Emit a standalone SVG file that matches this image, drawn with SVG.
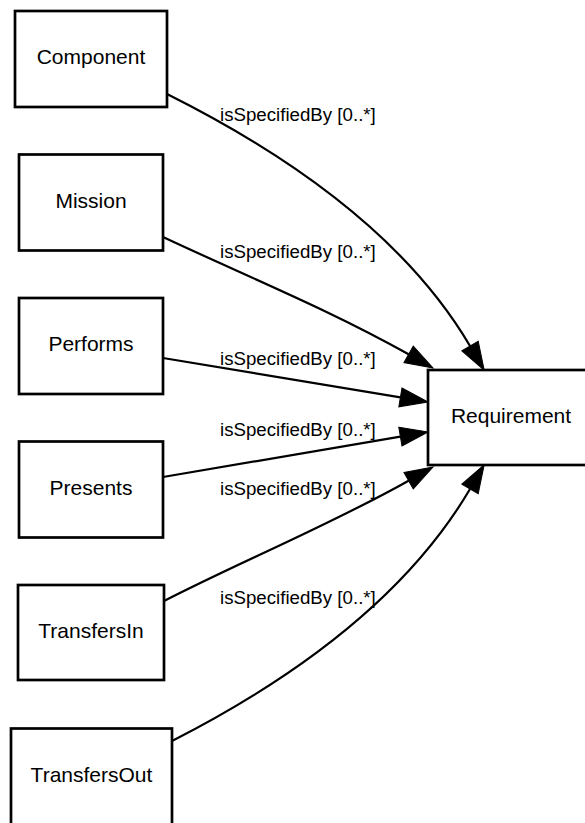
<svg xmlns="http://www.w3.org/2000/svg" width="585" height="823" viewBox="0 0 585 823">
<style>
.node rect{fill:#fff;stroke:#000;stroke-width:2.7}
.node text{font-family:"Liberation Sans",Arial,sans-serif;font-size:21px;text-anchor:middle;fill:#000}
.edge path{fill:none;stroke:#000;stroke-width:2.2}
.lbl{font-family:"Liberation Sans",Arial,sans-serif;font-size:18.7px;fill:#000}
</style>
<defs>
<marker id="arr" markerUnits="userSpaceOnUse" markerWidth="32" markerHeight="22" refX="0" refY="10" orient="auto" overflow="visible">
<path d="M0,0.5 L28,10 L0,19.5 z" fill="#000" stroke="#000" stroke-width="1"/>
</marker>
</defs>
<rect width="585" height="823" fill="#fff"/>
<g id="connectors" class="edge">
<path d="M167,94 C314,167.5 414.5,251.5 470,346" marker-end="url(#arr)"/>
<path d="M163,237 C245,275.5 328,309 408.6,354.3" marker-end="url(#arr)"/>
<path d="M163,358 L400.4,397.4" marker-end="url(#arr)"/>
<path d="M163,477 L400.4,436.6" marker-end="url(#arr)"/>
<path d="M164,601 C245,559.5 328,526 408.6,480.7" marker-end="url(#arr)"/>
<path d="M172,741 C316,667.5 414.5,583.5 470,489" marker-end="url(#arr)"/>
<text class="lbl" x="220" y="121">isSpecifiedBy [0..*]</text>
<text class="lbl" x="220" y="258">isSpecifiedBy [0..*]</text>
<text class="lbl" x="220" y="365">isSpecifiedBy [0..*]</text>
<text class="lbl" x="220" y="436">isSpecifiedBy [0..*]</text>
<text class="lbl" x="220" y="495">isSpecifiedBy [0..*]</text>
<text class="lbl" x="220" y="604">isSpecifiedBy [0..*]</text>
</g>
<g id="Component" class="node"><rect x="15" y="11" width="152" height="96"/><text x="91" y="64">Component</text></g>
<g id="Mission" class="node"><rect x="19" y="154.5" width="144" height="96"/><text x="91" y="207.5">Mission</text></g>
<g id="Performs" class="node"><rect x="19" y="298" width="144" height="96"/><text x="91" y="351">Performs</text></g>
<g id="Presents" class="node"><rect x="19" y="441.5" width="144" height="96"/><text x="91" y="494.5">Presents</text></g>
<g id="TransfersIn" class="node"><rect x="18" y="585" width="146" height="95"/><text x="91" y="638">TransfersIn</text></g>
<g id="TransfersOut" class="node"><rect x="11" y="728.5" width="161" height="96"/><text x="91.5" y="781.5">TransfersOut</text></g>
<g id="Requirement" class="node"><rect x="428" y="370" width="166" height="95"/><text x="511" y="422.5">Requirement</text></g>
</svg>
